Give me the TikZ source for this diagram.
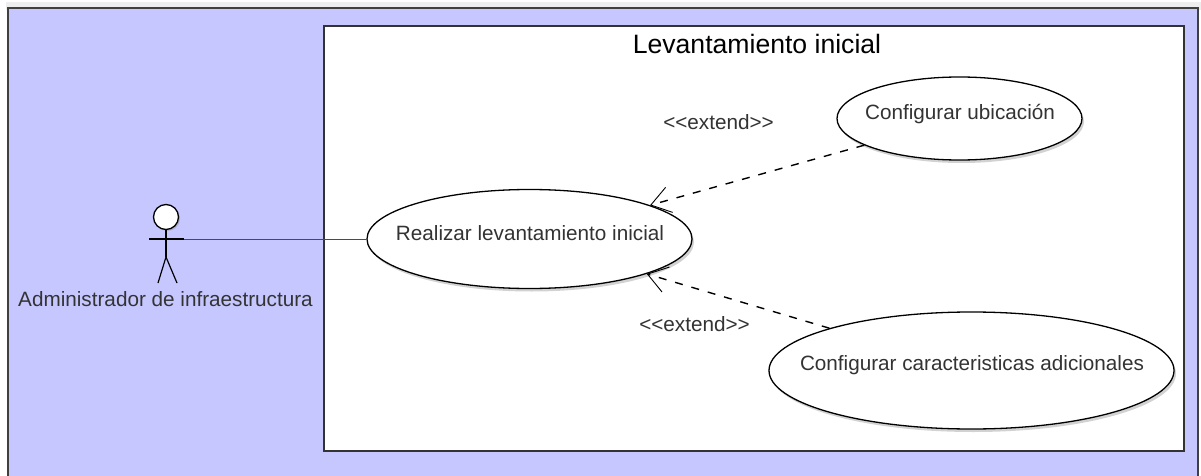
\documentclass[tikz,border=0pt]{standalone}
\usepackage{fontspec}
\setmainfont{Liberation Sans}
\usetikzlibrary{shapes.geometric,shadows,arrows.meta}
\definecolor{framebg}{RGB}{199,199,255}
\definecolor{stripbg}{RGB}{238,238,238}
\definecolor{assocline}{RGB}{64,64,160}
\tikzset{
  usecase/.style={ellipse,draw=black,fill=white,line width=1.3pt,inner sep=0pt,drop shadow={shadow xshift=2pt,shadow yshift=-3pt,opacity=0.35}},
  usecasetext/.style={font=\fontsize{20.7}{24}\selectfont,text=black!80},
  stereotype/.style={font=\fontsize{20.7}{24}\selectfont,text=black!80},
  extendline/.style={line width=1.4pt,dash pattern=on 8pt off 9pt,-{Straight Barb[length=19pt,width=26pt,line width=0.9pt]}},
}
\begin{document}
\begin{tikzpicture}[x=1pt,y=-1pt]%
\useasboundingbox (0,0) rectangle (1201,476);%
\fill[stripbg] (6,2) rectangle (1201,10);%
\draw[fill=framebg,draw=black!75,line width=2pt] (7.5,8.5) rectangle (1197.5,480);%
\draw[fill=white,draw=black!80,line width=2pt] (323.5,26.5) rectangle (1184,451);%
\node[font=\fontsize{26.6}{30}\selectfont] (system) at (757,44) {Levantamiento inicial};%
% use cases
\node[usecase,minimum width=325pt,minimum height=99pt] (realizar) at (529.5,239) {};%
\node[usecase,minimum width=245pt,minimum height=83pt] (ubicacion) at (959.5,118.5) {};%
\node[usecase,minimum width=405pt,minimum height=117pt] (adicionales) at (971.5,370.5) {};%
\node[usecasetext] (realizartext) at (530,233) {Realizar levantamiento inicial};%
\node[usecasetext] (ubicaciontext) at (960,114) {Configurar ubicación};%
\node[usecasetext] (adicionalestext) at (972,365) {Configurar caracteristicas adicionales};%
% actor
\node[circle,draw=black,fill=white,line width=1.3pt,minimum size=25pt,inner sep=0pt,drop shadow={shadow xshift=1.5pt,shadow yshift=-1.5pt,opacity=0.35}] (head) at (166,217) {};%
\coordinate (armleft) at (149,239);%
\coordinate (armright) at (184,239);%
\coordinate (hip) at (166,257);%
\coordinate (legleft) at (158,283);%
\coordinate (legright) at (177,283);%
\draw[line width=1.2pt] (head.south) -- (hip);%
\draw[line width=1.2pt] (armleft) -- (armright);%
\draw[line width=1.2pt] (legleft) -- (hip) -- (legright);%
\node[usecasetext] (actorname) at (165.5,299) {Administrador de infraestructura};%
% connectors
\draw[assocline,line width=1pt] (armright) -- (realizar.west);%
\draw[extendline] (ubicacion) -- (realizar);%
\draw[extendline] (adicionales) -- (realizar);%
\node[stereotype] (extendtop) at (718.5,122) {<{}<extend>{}>};%
\node[stereotype] (extendbottom) at (694.5,324) {<{}<extend>{}>};%
\end{tikzpicture}
\end{document}
